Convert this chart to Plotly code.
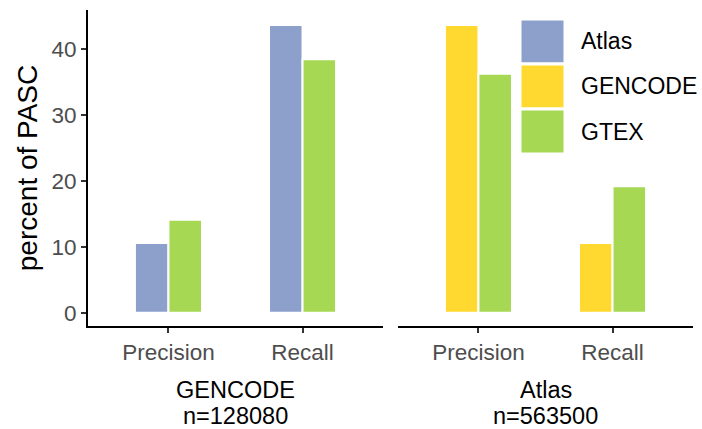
import plotly.graph_objects as go

# Metrics on the x axis of every panel
metrics = ["Precision", "Recall"]

# Panel 1: reference GENCODE (n=128080)
gencode_panel_lines = ["GENCODE", "n=128080"]
gencode_atlas = [10.6, 43.7]
gencode_gtex = [14.1, 38.5]

# Panel 2: reference Atlas (n=563500)
atlas_panel_lines = ["Atlas", "n=563500"]
atlas_gencode = [43.7, 10.6]
atlas_gtex = [36.3, 19.2]

# Legend entries and Set2 colours
legend_names = ["Atlas", "GENCODE", "GTEX"]
colors = {"Atlas": "#8DA0CB", "GENCODE": "#FFD92F", "GTEX": "#A6D854"}

y_ticks = [0, 10, 20, 30, 40]

FONT = "Liberation Sans, Arial, Helvetica, sans-serif"
W, H = 702, 429
ML, MR, MT, MB = 88, 9, 10, 103

fig = go.Figure()

def add_bar(name, values, xa, ya):
    fig.add_trace(go.Bar(
        x=metrics, y=values, name=name, xaxis=xa, yaxis=ya,
        marker=dict(color=colors[name], line=dict(color="white", width=2)),
        showlegend=False,
    ))

add_bar("Atlas", gencode_atlas, "x", "y")
add_bar("GTEX", gencode_gtex, "x", "y")
add_bar("GENCODE", atlas_gencode, "x2", "y2")
add_bar("GTEX", atlas_gtex, "x2", "y2")

plot_w = W - ML - MR
plot_h = H - MT - MB
left_dom = [0, 295 / plot_w]
right_dom = [310 / plot_w, 1]

def py_to_paper(py):
    """Convert a pixel row (from the top of the page) to paper y."""
    return (H - MB - py) / plot_h

def px_to_paper(px):
    return (px - ML) / plot_w

xcommon = dict(
    type="category", range=[-0.6, 1.6], showline=True, linecolor="black",
    linewidth=1.8, ticks="outside", ticklen=5, tickwidth=1.5, tickcolor="#333333",
    tickfont=dict(family=FONT, size=22.5, color="#4D4D4D"), showgrid=False,
    zeroline=False, fixedrange=True,
)
yrange = [-2.02, 45.97]

fig.update_layout(
    width=W, height=H,
    margin=dict(l=ML, r=MR, t=MT, b=MB),
    paper_bgcolor="white", plot_bgcolor="white",
    barmode="group", bargap=0.5, bargroupgap=0,
    xaxis=dict(domain=left_dom, anchor="y", **xcommon),
    xaxis2=dict(domain=right_dom, anchor="y2", **xcommon),
    yaxis=dict(
        range=yrange, tickvals=y_ticks, showline=True, linecolor="black",
        linewidth=1.8, ticks="outside", ticklen=5, tickwidth=1.5,
        tickcolor="#333333", tickfont=dict(family=FONT, size=22.5, color="#4D4D4D"),
        showgrid=False, zeroline=False, anchor="x",
        title=dict(text="percent of PASC", font=dict(family=FONT, size=28, color="black"),
                   standoff=6),
    ),
    yaxis2=dict(
        range=yrange, matches="y", showline=False, showticklabels=False,
        ticks="", showgrid=False, zeroline=False, anchor="x2",
    ),
    font=dict(family=FONT),
)

# Facet labels under each panel, one annotation per line
for dom, lines in [(left_dom, gencode_panel_lines), (right_dom, atlas_panel_lines)]:
    for row_py, line in zip([390, 416], lines):
        fig.add_annotation(
            x=(dom[0] + dom[1]) / 2, y=py_to_paper(row_py),
            xref="paper", yref="paper", text=line, showarrow=False,
            xanchor="center", yanchor="middle",
            font=dict(family=FONT, size=23.5, color="black"),
        )

# Legend drawn as square keys with labels in the top right corner
key_px = 45
key_x0 = 520
key_y0 = 19
for i, name in enumerate(legend_names):
    top = key_y0 + i * key_px
    fig.add_shape(
        type="rect", xref="paper", yref="paper",
        x0=px_to_paper(key_x0), x1=px_to_paper(key_x0 + key_px),
        y0=py_to_paper(top), y1=py_to_paper(top + key_px),
        fillcolor=colors[name], line=dict(color="white", width=3), layer="above",
    )
    fig.add_annotation(
        x=px_to_paper(579), y=py_to_paper(top + key_px / 2),
        xref="paper", yref="paper", text=name, showarrow=False,
        xanchor="left", yanchor="middle",
        font=dict(family=FONT, size=23, color="black"),
    )

fig.write_html("out.html")
